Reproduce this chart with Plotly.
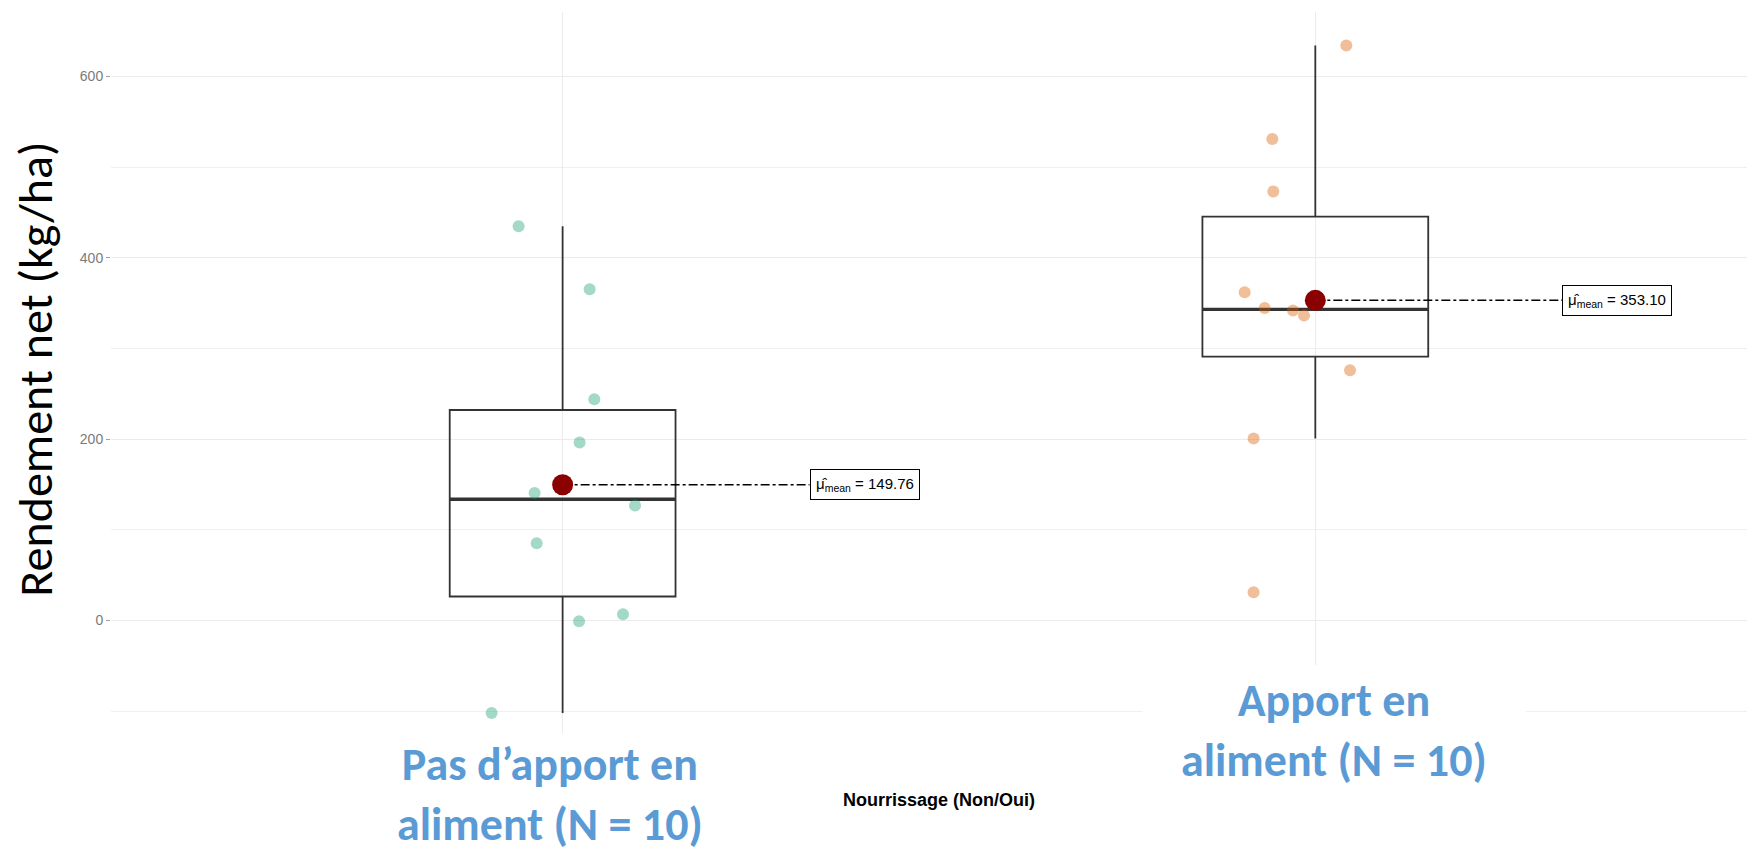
import numpy as np
import plotly.graph_objects as go

# Rendement net (kg/ha) per parcel, by feeding group
categories = ["Non", "Oui"]
category_labels = ["Pas d’apport en<br>aliment (N = 10)", "Apport en<br>aliment (N = 10)"]
rendement_non = [434.8, 365.4, 244.1, 196.4, 140.7, 126.8, 85.3, 6.9, -0.8, -102.0]
rendement_oui = [634.0, 531.0, 473.2, 362.0, 344.5, 341.8, 336.4, 276.0, 200.8, 31.3]
# horizontal jitter of the raw points (category units)
jitter_non = [-0.0585, 0.0359, 0.0421, 0.0226, -0.0372, 0.0962, -0.0345, 0.0802, 0.0218, -0.0943]
jitter_oui = [0.0412, -0.0571, -0.0558, -0.0939, -0.0673, -0.0296, -0.015, 0.0461, -0.082, -0.082]

y_ticks = [0, 200, 400, 600]
x_title = "Nourrissage (Non/Oui)"
y_title = "Rendement net (kg/ha)"

point_colors = ["rgba(27,158,119,0.4)", "rgba(217,95,2,0.4)"]
box_color = "#333333"
label_blue = "#5B9BD5"
BOX_W = 0.3
LABEL_OFFSET = 0.328

fig = go.Figure()

groups = [(rendement_non, jitter_non), (rendement_oui, jitter_oui)]
for i, (vals, jit) in enumerate(groups):
    pos = i + 1
    v = np.array(vals, dtype=float)
    q1, med, q3 = np.percentile(v, [25, 50, 75])
    iqr = q3 - q1
    lo = v[v >= q1 - 1.5 * iqr].min()
    hi = v[v <= q3 + 1.5 * iqr].max()

    fig.add_trace(go.Box(
        x=[pos], q1=[q1], median=[med], q3=[q3], lowerfence=[lo], upperfence=[hi],
        width=BOX_W, whiskerwidth=0, boxpoints=False,
        line=dict(color=box_color, width=1.8), fillcolor="rgba(0,0,0,0)",
        showlegend=False, hoverinfo="skip",
    ))
    # thicker median bar
    fig.add_trace(go.Scatter(
        x=[pos - BOX_W / 2, pos + BOX_W / 2], y=[med, med], mode="lines",
        line=dict(color=box_color, width=3.4), showlegend=False, hoverinfo="skip",
    ))
    # raw observations
    fig.add_trace(go.Scatter(
        x=[pos + j for j in jit], y=vals, mode="markers",
        marker=dict(size=12, color=point_colors[i], line=dict(width=0)),
        showlegend=False,
    ))
    # mean and its label connector
    mean = v.mean()
    fig.add_trace(go.Scatter(
        x=[pos, pos + LABEL_OFFSET], y=[mean, mean], mode="lines",
        line=dict(color="black", width=1.5, dash="dashdot"),
        showlegend=False, hoverinfo="skip",
    ))
    fig.add_trace(go.Scatter(
        x=[pos], y=[mean], mode="markers",
        marker=dict(size=21, color="#8B0000"), showlegend=False,
    ))
    fig.add_annotation(
        x=pos + LABEL_OFFSET, y=mean, xref="x", yref="y",
        text=f"μ̂<sub>mean</sub> = {mean:.2f}", showarrow=False,
        xanchor="left", yanchor="middle",
        font=dict(family="Liberation Sans, Arial", size=15, color="black"),
        bgcolor="white", bordercolor="black", borderwidth=1, borderpad=5,
    )

# white panel behind the right-hand category label
fig.add_shape(type="rect", xref="x", yref="y", x0=1.77, x1=2.28, y0=-124, y1=-49,
              fillcolor="white", line=dict(width=0), layer="above")

# category labels under each group
label_pos = [(1 - 0.017, 0.0), (2 + 0.025, 0.0040)]
label_anchor = ["bottom", "middle"]
for (xc, yy), text, anchor in zip(label_pos, category_labels, label_anchor):
    fig.add_annotation(
        x=xc, y=yy, xref="x", yref="paper", yshift=-121 if anchor == "bottom" else 0,
        text=f"<b>{text}</b>", showarrow=False, xanchor="center", yanchor=anchor,
        font=dict(family="Carlito, Lato", size=46, color=label_blue),
    )

fig.add_annotation(
    x=1.5, y=-0.093, xref="x", yref="paper", text=f"<b>{x_title}</b>",
    showarrow=False, xanchor="center", yanchor="middle",
    font=dict(family="Liberation Sans, Arial", size=18, color="black"),
)
fig.add_annotation(
    x=-0.046, y=0.505, xref="paper", yref="paper", text=y_title, textangle=-90,
    showarrow=False, xanchor="center", yanchor="middle",
    font=dict(family="Carlito, Lato", size=48, color="black"),
)

fig.update_layout(
    width=1747, height=854,
    margin=dict(l=111, r=0, t=12, b=121),
    paper_bgcolor="white", plot_bgcolor="white",
    xaxis=dict(
        range=[0.4, 0.4 + (1747 - 111) / 752.7], tickvals=[1, 2], showticklabels=False,
        showgrid=True, gridcolor="#EBEBEB", gridwidth=1, zeroline=False, ticks="",
        showline=False,
    ),
    yaxis=dict(
        range=[-124, 671], tickvals=y_ticks, showgrid=True, gridcolor="#EBEBEB", gridwidth=1,
        zeroline=False, ticks="outside", ticklen=4, tickcolor="#A0A0A0",
        tickfont=dict(family="Liberation Sans, Arial", size=14, color="#7A7A7A"),
        minor=dict(tickvals=[-100, 100, 300, 500], showgrid=True, gridcolor="#F0F0F0", ticks=""),
        showline=False,
    ),
    showlegend=False,
)

fig.write_html("out.html")
